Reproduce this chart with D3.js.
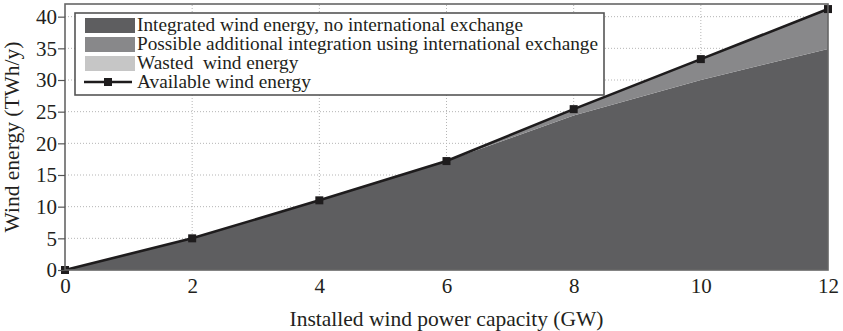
<!DOCTYPE html>
<html>
<head>
<meta charset="utf-8">
<script src="https://cdn.jsdelivr.net/npm/d3@7"></script>
<style>
  html, body { margin: 0; padding: 0; background: #fff; }
  svg text { font-family: "Liberation Serif", "DejaVu Serif", serif; fill: #231f20; }
</style>
</head>
<body>
<svg id="chart" width="843" height="331"></svg>
<script>
// Installed capacity (GW)
const capacity = [0, 2, 4, 6, 8, 10, 12];
// Energy (TWh/y)
const available = [0, 5.0, 11.0, 17.2, 25.4, 33.3, 41.2];
const integrated = [0, 5.0, 11.0, 17.2, 24.4, 30.0, 34.9];
const additional = [0, 0, 0, 0, 1.0, 3.3, 6.3];
const wasted = [0, 0, 0, 0, 0, 0, 0];

const xTicks = [0, 2, 4, 6, 8, 10, 12];
const yTicks = [0, 5, 10, 15, 20, 25, 30, 35, 40];

const seriesNames = [
  "Integrated wind energy, no international exchange",
  "Possible additional integration using international exchange",
  "Wasted  wind energy",
  "Available wind energy"
];
const fills = ["#5e5e60", "#88888a", "#c6c6c6"];

const svg = d3.select("#chart");
const m = { left: 65, right: 14, top: 4, bottom: 61 };
const W = 843, H = 331;

const x = d3.scaleLinear().domain([0, 12]).range([m.left, W - m.right - 1]);
const y = d3.scaleLinear().domain([0, 42]).range([H - m.bottom, m.top]);

// dotted grid
const grid = svg.append("g");
grid.selectAll("line.v").data(xTicks.slice(1, -1)).join("line")
  .attr("x1", d => x(d)).attr("x2", d => x(d))
  .attr("y1", y(0)).attr("y2", y(42))
  .attr("stroke", "#b5b5b5").attr("stroke-width", 1).attr("stroke-dasharray", "1,2");
grid.selectAll("line.h").data(yTicks.slice(1)).join("line")
  .attr("x1", x(0)).attr("x2", x(12))
  .attr("y1", d => y(d)).attr("y2", d => y(d))
  .attr("stroke", "#b5b5b5").attr("stroke-width", 1).attr("stroke-dasharray", "1,2");

// stacked areas
const rows = capacity.map((c, i) => ({ c, integrated: integrated[i], additional: additional[i], wasted: wasted[i] }));
const stack = d3.stack().keys(["integrated", "additional", "wasted"]);
const layers = stack(rows);
const area = d3.area()
  .x((d, i) => x(capacity[i]))
  .y0(d => y(d[0]))
  .y1(d => y(d[1]));
svg.append("g").selectAll("path").data(layers).join("path")
  .attr("d", area)
  .attr("fill", (d, i) => fills[i]);

// available line with square markers
const line = d3.line().x((d, i) => x(capacity[i])).y(d => y(d));
svg.append("path").datum(available)
  .attr("d", line).attr("fill", "none")
  .attr("stroke", "#1e1c1d").attr("stroke-width", 2.6);
svg.append("g").selectAll("rect").data(available).join("rect")
  .attr("x", (d, i) => x(capacity[i]) - 4)
  .attr("y", d => y(d) - 4)
  .attr("width", 8).attr("height", 8)
  .attr("fill", "#1e1c1d");

// frame
svg.append("rect")
  .attr("x", x(0)).attr("y", y(42))
  .attr("width", x(12) - x(0)).attr("height", y(0) - y(42))
  .attr("fill", "none").attr("stroke", "#666").attr("stroke-width", 1.6);

// axes
const xAxis = svg.append("g").attr("transform", `translate(0,${y(0)})`)
  .call(d3.axisBottom(x).tickValues(xTicks).tickSize(0).tickPadding(8).tickFormat(d3.format("d")));
xAxis.select(".domain").remove();
xAxis.selectAll("text").style("font-size", "21px").attr("fill", "#231f20");

const yAxis = svg.append("g").attr("transform", `translate(${x(0)},0)`)
  .call(d3.axisLeft(y).tickValues(yTicks).tickSize(7).tickPadding(1).tickFormat(d3.format("d")));
yAxis.select(".domain").remove();
yAxis.selectAll("line").attr("stroke", "#555").attr("stroke-width", 1.2);
yAxis.selectAll("text").style("font-size", "21px").attr("fill", "#231f20").attr("dy", "0.32em");

svg.append("text")
  .attr("x", (x(0) + x(12)) / 2).attr("y", 326)
  .attr("text-anchor", "middle").style("font-size", "21.5px")
  .text("Installed wind power capacity (GW)");
svg.append("text")
  .attr("transform", `translate(19,${(y(0) + y(42)) / 2}) rotate(-90)`)
  .attr("text-anchor", "middle").style("font-size", "21.5px")
  .text("Wind energy (TWh/y)");

// legend
const lg = svg.append("g");
lg.append("rect").attr("x", 75).attr("y", 13).attr("width", 529).attr("height", 82)
  .attr("fill", "#fff").attr("stroke", "#555").attr("stroke-width", 1.6);
const rowY = [25, 44, 63, 82];
seriesNames.forEach((name, i) => {
  if (i < 3) {
    lg.append("rect").attr("x", 85).attr("y", rowY[i] - 7).attr("width", 50).attr("height", 15)
      .attr("fill", fills[i]);
  } else {
    lg.append("line").attr("x1", 84).attr("x2", 132).attr("y1", rowY[i]).attr("y2", rowY[i])
      .attr("stroke", "#1e1c1d").attr("stroke-width", 2.6);
    lg.append("rect").attr("x", 104).attr("y", rowY[i] - 4).attr("width", 8).attr("height", 8)
      .attr("fill", "#1e1c1d");
  }
  lg.append("text").attr("x", 137).attr("y", rowY[i]).attr("dy", "0.33em")
    .style("font-size", "19.3px").style("white-space", "pre").text(name);
});
</script>
</body>
</html>
